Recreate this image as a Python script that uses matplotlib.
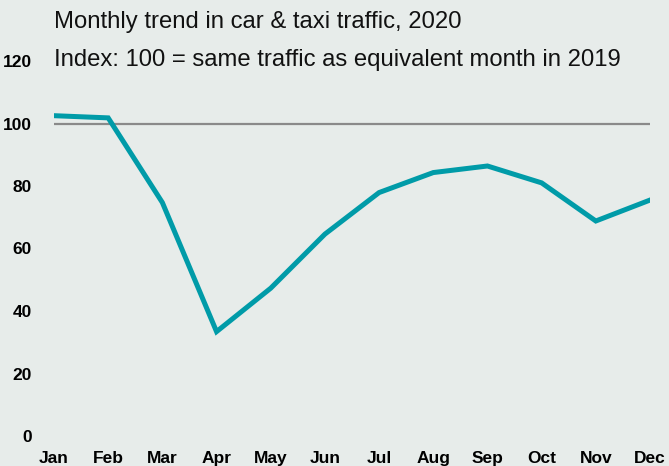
import matplotlib
matplotlib.use("Agg")
import matplotlib.pyplot as plt

months = ["Jan", "Feb", "Mar", "Apr", "May", "Jun", "Jul", "Aug", "Sep", "Oct", "Nov", "Dec"]
traffic_index = [102.5, 101.8, 74.7, 33.4, 47.3, 64.6, 77.9, 84.3, 86.4, 81.0, 68.8, 75.5]
yticks = [0, 20, 40, 60, 80, 100, 120]
baseline = 100
title_line1 = "Monthly trend in car & taxi traffic, 2020"
title_line2 = "Index: 100 = same traffic as equivalent month in 2019"

plt.rcParams["font.family"] = ["Liberation Sans", "DejaVu Sans"]
bg = "#e7ecea"

fig = plt.figure(figsize=(6.69, 4.66), dpi=100, facecolor=bg)
ax = fig.add_axes([54/669, 30/466, (650-54)/669, (436-61)/466])
ax.set_facecolor(bg)

x = list(range(len(months)))
ax.axhline(baseline, color="#8a8a8a", lw=1.6, zorder=1)
ax.plot(x, traffic_index, color="#009ba8", lw=3.6, zorder=2, solid_joinstyle="miter")

ax.set_xlim(0, len(months) - 1)
ax.set_ylim(0, 120)
ax.set_yticks(yticks)
ax.set_yticklabels([str(v) for v in yticks], fontweight="bold", fontsize=12.5)
ax.set_xticks(x)
ax.set_xticklabels(months, fontweight="bold", fontsize=12.5)
ax.tick_params(axis="y", length=0, pad=16)
ax.tick_params(axis="x", length=0, pad=10.5)
for s in ax.spines.values():
    s.set_visible(False)

fig.text(54/669, 1 - 22/466, title_line1, fontsize=17.2, va="center", ha="left", color="#111111")
fig.text(54/669, 1 - 60/466, title_line2, fontsize=17.2, va="center", ha="left", color="#111111")

fig.savefig("out.png", dpi=100, facecolor=bg)
